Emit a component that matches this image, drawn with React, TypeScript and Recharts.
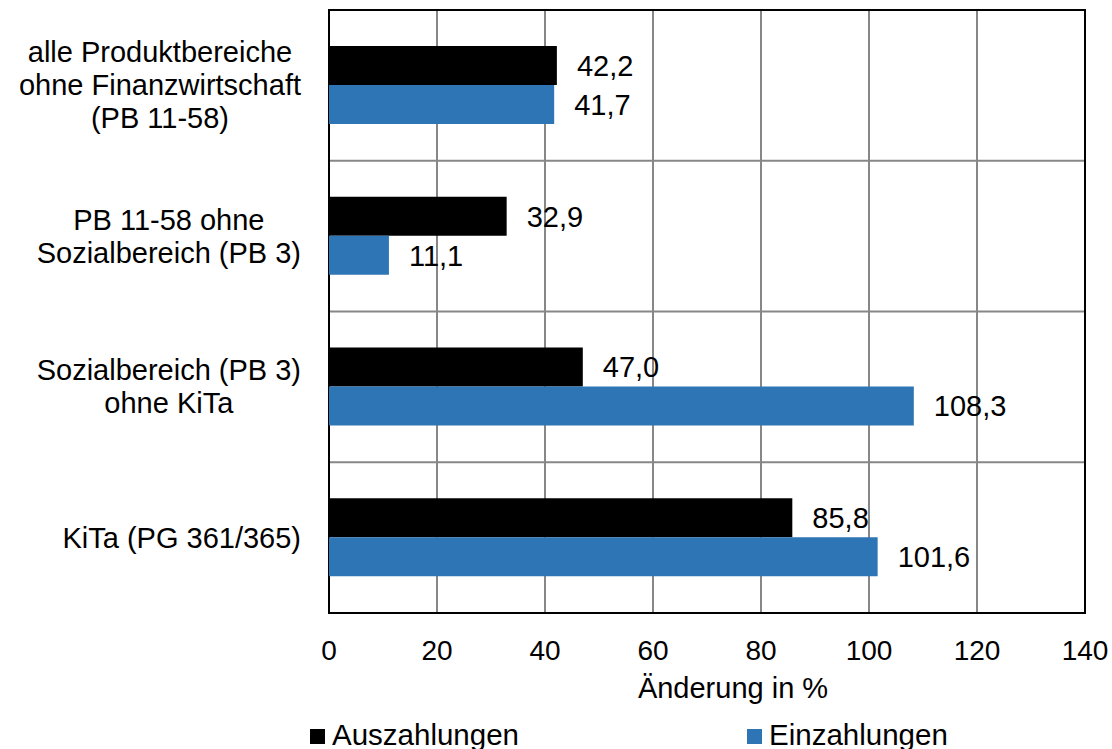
import {
  Bar,
  BarChart,
  CartesianGrid,
  LabelList,
  ReferenceArea,
  XAxis,
  YAxis,
} from "recharts";

const FONT = "'Liberation Sans', Arial, sans-serif";

const categories = [
  "alle Produktbereiche\nohne Finanzwirtschaft\n(PB 11-58)",
  "PB 11-58 ohne\nSozialbereich (PB 3)",
  "Sozialbereich (PB 3)\nohne KiTa",
  "KiTa (PG 361/365)",
];
const auszahlungen = [42.2, 32.9, 47.0, 85.8];
const einzahlungen = [41.7, 11.1, 108.3, 101.6];
const xTicks = [0, 20, 40, 60, 80, 100, 120, 140];

const data = categories.map((name, i) => ({
  name,
  aus: auszahlungen[i],
  ein: einzahlungen[i],
}));

const BLUE = "#2E75B6";
const GRID = "#878787";

let measureCtx: CanvasRenderingContext2D | null = null;
function textWidth(text: string, size: number) {
  if (!measureCtx) measureCtx = document.createElement("canvas").getContext("2d");
  if (!measureCtx) return text.length * size * 0.5;
  measureCtx.font = `${size}px ${FONT}`;
  return measureCtx.measureText(text).width;
}

const formatValue = (v: any) => Number(v).toFixed(1).replace(".", ",");

// category labels: block right-aligned to the axis, lines centred within it
function CategoryTick({ x, y, payload }: any) {
  const size = 29;
  const lineH = 33;
  const lines = String(payload.value).split("\n");
  const blockW = Math.max(...lines.map((l) => textWidth(l, size)));
  const right = x - 26;
  const cx = right - blockW / 2;
  return (
    <text textAnchor="middle" fontSize={size} fill="#000" fontFamily={FONT}>
      {lines.map((line, i) => (
        <tspan key={i} x={cx} y={y + 10 + (i - (lines.length - 1) / 2) * lineH}>
          {line}
        </tspan>
      ))}
    </text>
  );
}

function LegendItem({ color, label, left }: { color: string; label: string; left: number }) {
  return (
    <div
      style={{
        position: "absolute",
        left,
        top: 718,
        display: "flex",
        alignItems: "center",
        fontSize: 29.5,
        fontFamily: FONT,
        color: "#000",
        lineHeight: "34px",
      }}
    >
      <span style={{ width: 15, height: 15, background: color, marginRight: 7, marginTop: 3 }} />
      {label}
    </div>
  );
}

export default function App() {
  return (
    <div
      style={{
        position: "absolute",
        left: 0,
        top: 0,
        width: 1112,
        height: 749,
        background: "#fff",
        fontFamily: FONT,
      }}
    >
      <BarChart
        layout="vertical"
        width={1112}
        height={749}
        data={data}
        margin={{ top: 10, right: 27, left: 0, bottom: 51 }}
        barGap={0}
      >
        <CartesianGrid
          stroke={GRID}
          strokeWidth={2}
          horizontalCoordinatesGenerator={({ offset }: any) =>
            categories
              .slice(1)
              .map((_, i) => offset.top + ((i + 1) * offset.height) / categories.length)
          }
        />
        <XAxis
          type="number"
          domain={[0, 140]}
          ticks={xTicks}
          height={85}
          tickLine={false}
          axisLine={false}
          tickSize={0}
          tickMargin={27}
          tick={{ fontSize: 28, fill: "#000", fontFamily: FONT }}
          label={{
            value: "Änderung in %",
            position: "insideBottom",
            offset: 0,
            dx: 26,
            fontSize: 29,
            fill: "#000",
            fontFamily: FONT,
          }}
        />
        <YAxis
          type="category"
          dataKey="name"
          width={329}
          tickLine={false}
          axisLine={false}
          tickSize={0}
          tick={<CategoryTick />}
        />
        <Bar dataKey="aus" name="Auszahlungen" fill="#000" barSize={39} isAnimationActive={false}>
          <LabelList
            dataKey="aus"
            position="right"
            offset={20}
            formatter={formatValue}
            fontSize={29}
            fill="#000"
            fontFamily={FONT}
          />
        </Bar>
        <Bar dataKey="ein" name="Einzahlungen" fill={BLUE} barSize={39} isAnimationActive={false}>
          <LabelList
            dataKey="ein"
            position="right"
            offset={20}
            formatter={formatValue}
            fontSize={29}
            fill="#000"
            fontFamily={FONT}
          />
        </Bar>
        <ReferenceArea x1={0} x2={140} fill="none" stroke="#000" strokeWidth={2} />
      </BarChart>
      <LegendItem color="#000" label="Auszahlungen" left={310} />
      <LegendItem color={BLUE} label="Einzahlungen" left={747} />
    </div>
  );
}
